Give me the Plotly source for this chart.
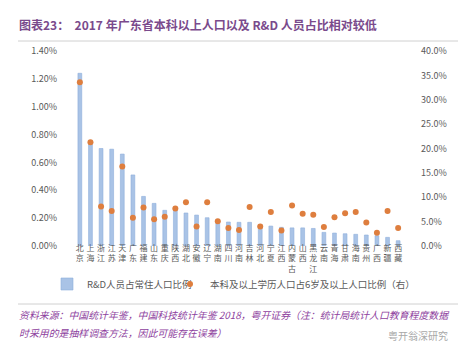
import plotly.graph_objects as go

provinces = ["北京", "上海", "浙江", "江苏", "天津", "广东", "福建", "山东", "重庆", "陕西",
             "湖北", "安徽", "辽宁", "湖南", "四川", "河南", "吉林", "河北", "宁夏", "江西",
             "内蒙古", "山西", "黑龙江", "云南", "青海", "甘肃", "海南", "贵州", "广西", "新疆", "西藏"]
rd_share = [1.24, 0.75, 0.70, 0.695, 0.66, 0.51, 0.356, 0.306, 0.256, 0.265,
            0.237, 0.222, 0.203, 0.186, 0.172, 0.17, 0.17, 0.153, 0.143, 0.134,
            0.13, 0.13, 0.126, 0.098, 0.093, 0.088, 0.084, 0.079, 0.074, 0.062, 0.038]
rd_share = [v / 100 for v in rd_share]
edu_share = [33.6, 21.3, 8.1, 7.2, 16.3, 5.8, 7.9, 5.5, 6.0, 7.7,
             9.0, 4.0, 9.0, 5.1, 3.7, 3.3, 8.0, 4.0, 7.0, 3.2,
             8.3, 6.6, 6.4, 3.9, 5.9, 6.7, 7.0, 4.8, 2.7, 7.2, 3.7]
edu_share = [v / 100 for v in edu_share]
tick_labels = ["<br>".join(list(p)) for p in provinces]

FONT = "Noto Sans CJK SC"
W, H = 466, 356
ml, mr, mt, mb = 50, 54, 43, 118
pw = W - ml - mr
ph = H - mt - mb

def px(x):
    return (x - ml) / pw

def py(y):
    return (H - mb - y) / ph

fig = go.Figure()
fig.add_trace(go.Bar(x=provinces, y=rd_share, name="R&D人员占常住人口比例",
                     marker=dict(color="#A9C3E6", line=dict(color="#8EAEDB", width=0.6)),
                     width=0.36, legend="legend"))
fig.add_trace(go.Scatter(x=provinces, y=edu_share, yaxis="y2", mode="markers",
                         name="本科及以上学历人口占6岁及以上人口比例（右）",
                         marker=dict(color="#DE7E3E", size=6), legend="legend2"))

legend_common = dict(orientation="h", yanchor="middle", y=py(276),
                     font=dict(family=FONT, size=9.5, color="#595959"),
                     bgcolor="rgba(0,0,0,0)", itemwidth=30, xanchor="left")

fig.update_layout(
    width=W, height=H,
    margin=dict(l=ml, r=mr, t=mt, b=mb),
    paper_bgcolor="white", plot_bgcolor="white",
    font=dict(family=FONT, size=9, color="#595959"),
    bargap=0.6,
    xaxis=dict(tickmode="array", tickvals=provinces, ticktext=tick_labels, tickangle=0,
               tickfont=dict(size=8, color="#595959"), showline=False, ticks="", ticklen=0,
               ticklabelstandoff=-4),
    yaxis=dict(range=[0, 0.014], dtick=0.002, tickformat=".2%", showgrid=False,
               zeroline=False, tickfont=dict(size=9, color="#595959")),
    yaxis2=dict(range=[0, 0.40], dtick=0.05, tickformat=".1%", showgrid=False,
                zeroline=False, overlaying="y", side="right",
                tickfont=dict(size=9, color="#595959")),
    showlegend=True,
    legend=dict(x=px(39), **legend_common),
    legend2=dict(x=px(162), **legend_common),
    shapes=[
        dict(type="line", xref="paper", yref="paper", x0=px(10), x1=px(455),
             y0=py(33), y1=py(33), line=dict(color="#D0D0D0", width=1)),
        dict(type="line", xref="paper", yref="paper", x0=px(10), x1=px(455),
             y0=py(296), y1=py(296), line=dict(color="#D0D0D0", width=1)),
    ],
    annotations=[
        dict(xref="paper", yref="paper", x=px(9), y=py(16), xanchor="left", yanchor="middle",
             showarrow=False,
             text="<b>图表23：  2017 年广东省本科以上人口以及 R&D 人员占比相对较低</b>",
             font=dict(family=FONT, size=12, color="#7A4A8C")),
        dict(xref="paper", yref="paper", x=px(9), y=py(307), xanchor="left", yanchor="middle",
             showarrow=False,
             text="<i>资料来源：中国统计年鉴，中国科技统计年鉴 2018，粤开证券（注：统计局统计人口教育程度数据</i>",
             font=dict(family=FONT, size=9.9, color="#8E3F9E")),
        dict(xref="paper", yref="paper", x=px(9), y=py(325), xanchor="left", yanchor="middle",
             showarrow=False,
             text="<i>时采用的是抽样调查方法，因此可能存在误差）</i>",
             font=dict(family=FONT, size=9.9, color="#8E3F9E")),
        dict(xref="paper", yref="paper", x=px(442), y=py(327), xanchor="right", yanchor="middle",
             showarrow=False, text="粤开翁深研究",
             font=dict(family=FONT, size=10, color="#A8A8A8")),
    ],
)
fig.write_html("out.html")
